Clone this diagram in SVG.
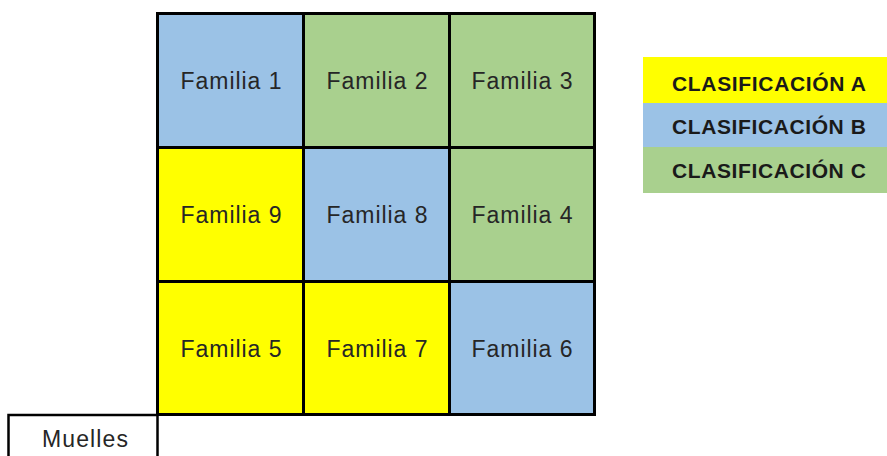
<svg xmlns="http://www.w3.org/2000/svg" width="887" height="456" viewBox="0 0 887 456">
<style>
.cell{stroke:#000;stroke-width:3}
.a{fill:#FFFF00}.b{fill:#9BC2E6}.c{fill:#A9D08E}
.t{font-family:"Liberation Sans",Arial,sans-serif;font-size:23px;fill:#262626;text-anchor:middle}
.l{font-family:"Liberation Sans",Arial,sans-serif;font-size:21px;font-weight:bold;fill:#1a1a1a}
</style>
<rect width="887" height="456" fill="#fff"/>
<g id="f1"><rect class="cell b" x="157.5" y="13.5" width="146" height="134"/><text class="t" x="231" y="89" textLength="101">Familia 1</text></g>
<g id="f2"><rect class="cell c" x="303.5" y="13.5" width="146" height="134"/><text class="t" x="377" y="89" textLength="101">Familia 2</text></g>
<g id="f3"><rect class="cell c" x="449.5" y="13.5" width="145" height="134"/><text class="t" x="522" y="89" textLength="101">Familia 3</text></g>
<g id="f9"><rect class="cell a" x="157.5" y="147.5" width="146" height="134"/><text class="t" x="231" y="223" textLength="101">Familia 9</text></g>
<g id="f8"><rect class="cell b" x="303.5" y="147.5" width="146" height="134"/><text class="t" x="377" y="223" textLength="101">Familia 8</text></g>
<g id="f4"><rect class="cell c" x="449.5" y="147.5" width="145" height="134"/><text class="t" x="522" y="223" textLength="101">Familia 4</text></g>
<g id="f5"><rect class="cell a" x="157.5" y="281.5" width="146" height="133"/><text class="t" x="231" y="357" textLength="101">Familia 5</text></g>
<g id="f7"><rect class="cell a" x="303.5" y="281.5" width="146" height="133"/><text class="t" x="377" y="357" textLength="101">Familia 7</text></g>
<g id="f6"><rect class="cell b" x="449.5" y="281.5" width="145" height="133"/><text class="t" x="522" y="357" textLength="101">Familia 6</text></g>
<g id="muelles"><path d="M8.5,460 V415 H157.5 V460" fill="#fff" stroke="#000" stroke-width="2.5"/><text class="t" x="85" y="447" textLength="86">Muelles</text></g>
<g id="legend">
<g id="legA"><rect class="a" x="643" y="57" width="244" height="46"/><text class="l" x="672" y="91" textLength="194">CLASIFICACIÓN A</text></g>
<g id="legB"><rect class="b" x="643" y="103" width="244" height="44"/><text class="l" x="672" y="134" textLength="194">CLASIFICACIÓN B</text></g>
<g id="legC"><rect class="c" x="643" y="147" width="244" height="46"/><text class="l" x="672" y="178" textLength="194">CLASIFICACIÓN C</text></g>
</g>
</svg>
